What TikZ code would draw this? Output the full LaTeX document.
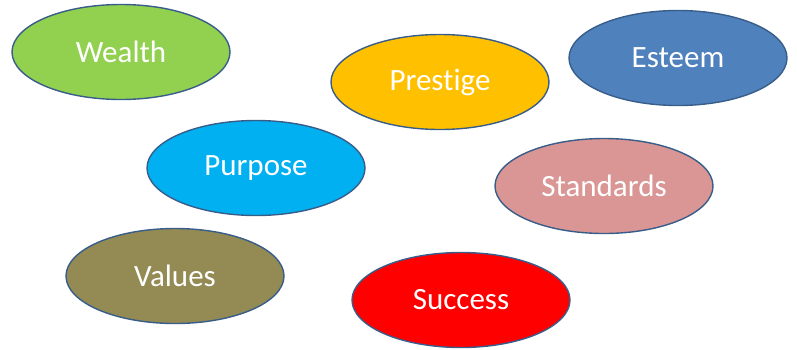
\documentclass[tikz,border=0pt]{standalone}
\usepackage{fontspec}
\setmainfont[Ligatures=NoCommon]{Carlito}
\usepackage{tikz}
\usetikzlibrary{positioning}
\usetikzlibrary{shapes.geometric}
\definecolor{rim}{HTML}{385D8A}
\definecolor{wealthc}{HTML}{92D050}
\definecolor{prestigec}{HTML}{FFC000}
\definecolor{esteemc}{HTML}{4F81BD}
\definecolor{purposec}{HTML}{00B0F0}
\definecolor{standardsc}{HTML}{D99694}
\definecolor{valuesc}{HTML}{948A54}
\definecolor{successc}{HTML}{FF0000}
\tikzset{bubble/.style={draw=rim,line width=1.4pt,ellipse,minimum width=218pt,minimum height=95pt,inner sep=0pt,text=white,font=\fontsize{31}{36}\selectfont}}

\begin{document}
\begin{tikzpicture}[x=1pt,y=-1pt]
	  \useasboundingbox (0,0) rectangle (797,349);
	  \node (W) [bubble,fill=wealthc]  at (121,52) {Wealth};
	  \node (P) [bubble,fill=prestigec] at (440,82) {Prestige};
	  \node (E) [bubble,fill=esteemc] at (678,58) {Esteem};
	  \node (U) [bubble,fill=purposec] at (256,168) {Purpose};
	  \node (S) [bubble,fill=standardsc] at (604,186) {Standards};
	  \node (V) [bubble,fill=valuesc] at (175,276) {Values};
	  \node (C) [bubble,fill=successc] at (461,300) {Success};
	\end{tikzpicture}
\end{document}
